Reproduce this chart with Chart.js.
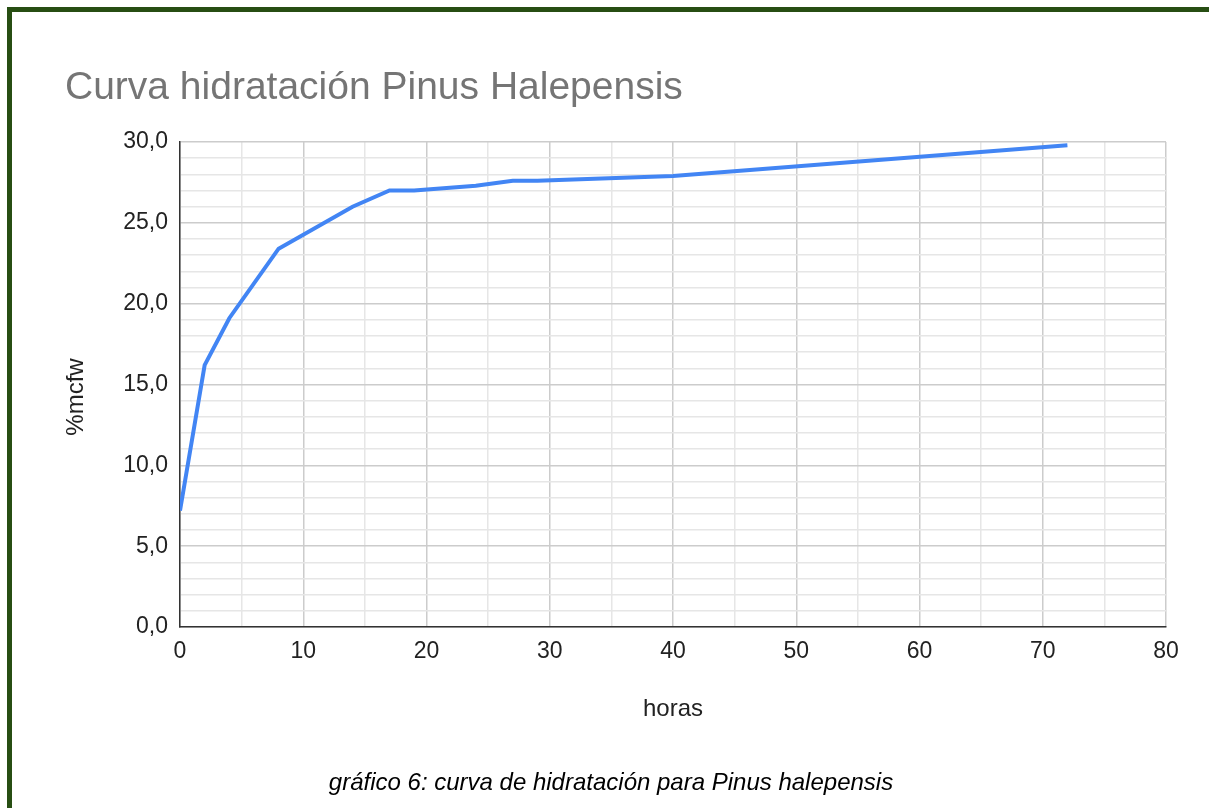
<!DOCTYPE html>
<html>
<head>
<meta charset="utf-8">
<script src="https://cdn.jsdelivr.net/npm/chart.js@4"></script>
<style>
    html, body { margin: 0; padding: 0; background: #fff; }
    #wrap { position: relative; width: 1209px; height: 808px; overflow: hidden; font-family: "Liberation Sans", Arial, sans-serif; }
    #frame { position: absolute; left: 7px; top: 7px; width: 1400px; height: 1000px; border-left: 5px solid #274e13; border-top: 5px solid #274e13; box-sizing: border-box; }
    #chart { position: absolute; left: 0; top: 0; }
    #title { position: absolute; left: 65px; top: 66px; font-size: 39px; line-height: 39px; color: #757575; white-space: nowrap; }
    #ytitle { position: absolute; left: 75px; top: 397px; font-size: 24px; line-height: 24px; color: #222; white-space: nowrap; transform: translate(-50%, -50%) rotate(-90deg); }
    #caption { position: absolute; left: 0; width: 1222px; top: 769px; text-align: center; font-size: 24px; line-height: 26px; font-style: italic; color: #000; white-space: nowrap; }
</style>
</head>
<body>
<div id="wrap">
    <canvas id="chart" width="1209" height="808"></canvas>
    <div id="frame"></div>
    <div id="title">Curva hidratación Pinus Halepensis</div>
    <div id="ytitle">%mcfw</div>
    <div id="caption">gráfico 6: curva de hidratación para Pinus halepensis</div>
</div>
<script>
// Curva de hidratación
const hours = [0, 2, 4, 8, 14, 17, 19, 24, 27, 29, 40, 72];
const mcfw = [7.2, 16.2, 19.1, 23.4, 26.0, 27.0, 27.0, 27.3, 27.6, 27.6, 27.9, 29.8];
const xTicks = [0, 10, 20, 30, 40, 50, 60, 70, 80];
const yTicks = [0, 5, 10, 15, 20, 25, 30];

const tickFont = { family: '"Liberation Sans", Arial, sans-serif', size: 23 };

new Chart(document.getElementById('chart'), {
    type: 'line',
    data: {
        datasets: [{
            label: '%mcfw',
            data: hours.map((h, i) => ({ x: h, y: mcfw[i] })),
            borderColor: '#4285f4',
            borderWidth: 4,
            pointRadius: 0,
            tension: 0,
            fill: false
        }]
    },
    options: {
        responsive: false,
        devicePixelRatio: 1,
        animation: false,
        layout: { padding: { top: 142, right: 43, left: 0, bottom: 0 } },
        plugins: { legend: { display: false }, tooltip: { enabled: false } },
        scales: {
            x: {
                type: 'linear',
                min: 0, max: 80,
                afterFit: s => { s.height = 181; },
                ticks: {
                    stepSize: 5, autoSkip: false, maxRotation: 0,
                    padding: 11, color: '#222', font: tickFont,
                    callback: v => xTicks.includes(v) ? String(v) : ''
                },
                grid: {
                    drawTicks: false,
                    color: c => xTicks.includes(c.tick.value) ? '#cccccc' : '#e6e6e6',
                    lineWidth: 1.5
                },
                border: { color: '#333', width: 1.5 },
                title: {
                    display: true, text: 'horas', color: '#222',
                    font: { family: tickFont.family, size: 24 }, padding: { top: 84, bottom: 84 }
                }
            },
            y: {
                min: 0, max: 30,
                afterFit: s => { s.width = 180; },
                ticks: {
                    stepSize: 1, autoSkip: false,
                    padding: 12, color: '#222', font: tickFont,
                    callback: v => yTicks.includes(v) ? v.toFixed(1).replace('.', ',') : ''
                },
                grid: {
                    drawTicks: false,
                    color: c => yTicks.includes(c.tick.value) ? '#cccccc' : '#e6e6e6',
                    lineWidth: 1.5
                },
                border: { color: '#333', width: 1.5 }
            }
        }
    }
});
</script>
</body>
</html>
